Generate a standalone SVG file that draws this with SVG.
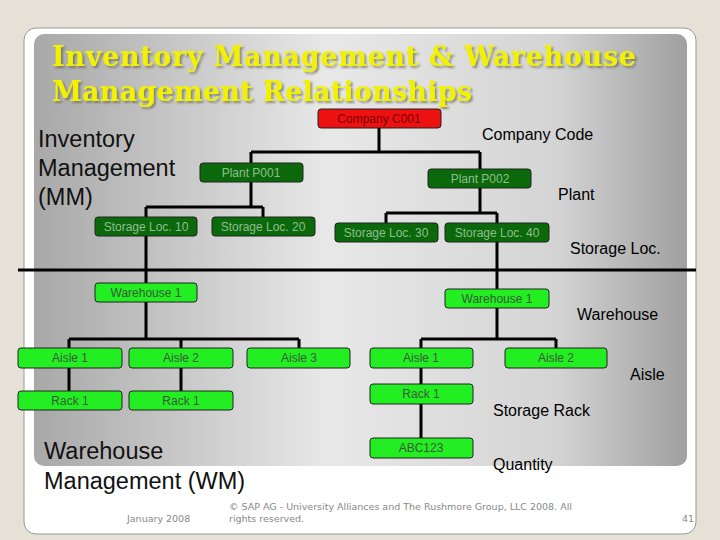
<svg xmlns="http://www.w3.org/2000/svg" width="720" height="540" viewBox="0 0 720 540">
<defs>
<linearGradient id="bg" x1="0" y1="0" x2="1" y2="0">
<stop offset="0" stop-color="#a8a8a8"/><stop offset="0.45" stop-color="#e8e8e8"/><stop offset="0.8" stop-color="#d4d4d4"/><stop offset="1" stop-color="#a0a0a0"/>
</linearGradient>
<filter id="sh" x="-5%" y="-20%" width="110%" height="150%"><feDropShadow dx="2" dy="2" stdDeviation="0.8" flood-color="#55553a" flood-opacity="0.6"/></filter>
<style>
.n rect{stroke:#222;stroke-width:1}
.n text{font-family:"Liberation Sans",Arial,sans-serif;font-size:12px;text-anchor:middle}
.dg rect{fill:#0b690b}.dg text{fill:#8fbf8f}
.lg rect{fill:#22ee22}.lg text{fill:#3a5a3a}
.lab{font-family:"Liberation Sans",Arial,sans-serif;font-size:16px;fill:#000}
.big{font-family:"Liberation Sans",Arial,sans-serif;font-size:23.5px;fill:#111}
.ft{font-family:"DejaVu Sans",Verdana,sans-serif;font-size:9.5px;fill:#888}
.tt{font-family:"DejaVu Serif",serif;font-weight:bold;font-size:27px}
#conn path{fill:none;stroke:#000;stroke-width:3}
</style>
</defs>
<rect width="720" height="540" fill="#e6e1d7"/>
<rect x="24" y="28" width="672" height="506" rx="12" fill="#fff" stroke="#999"/>
<rect x="34" y="34" width="653" height="432" rx="10" fill="url(#bg)"/>
<g class="tt" fill="#f2f200" filter="url(#sh)">
<text x="52" y="66" textLength="584">Inventory Management &amp; Warehouse</text>
<text x="52" y="101" textLength="420">Management Relationships</text>
</g>
<line x1="18" y1="270" x2="696" y2="270" stroke="#000" stroke-width="3"/>
<g id="conn">
<path d="M379 128V152M251 152H480M251 152V163M480 152V169"/>
<path d="M251 182V207M146 207H263M146 207V217M263 207V217"/>
<path d="M480 188V213M386 213H497M386 213V223M497 213V223"/>
<path d="M146 236V283M497 242V289"/>
<path d="M146 302V339M69 339H299M69 339V348M181 339V348M299 339V348"/>
<path d="M497 308V339M421 339H556M421 339V348M556 339V348"/>
<path d="M69 368V391M181 368V391M421 368V384M421 404V438"/>
</g>
<g id="company" class="n"><rect x="318" y="109" width="123" height="19" rx="3" fill="#ee1111"/><text x="379" y="123" fill="#7a0000">Company C001</text></g>
<g id="p1" class="n dg"><rect x="200" y="163" width="103" height="19" rx="3"/><text x="251" y="177">Plant P001</text></g>
<g id="p2" class="n dg"><rect x="428" y="169" width="103" height="19" rx="3"/><text x="480" y="183">Plant P002</text></g>
<g id="s10" class="n dg"><rect x="95" y="217" width="102" height="19" rx="3"/><text x="146" y="231">Storage Loc. 10</text></g>
<g id="s20" class="n dg"><rect x="212" y="217" width="103" height="19" rx="3"/><text x="263" y="231">Storage Loc. 20</text></g>
<g id="s30" class="n dg"><rect x="335" y="223" width="103" height="19" rx="3"/><text x="386" y="237">Storage Loc. 30</text></g>
<g id="s40" class="n dg"><rect x="445" y="223" width="104" height="19" rx="3"/><text x="497" y="237">Storage Loc. 40</text></g>
<g id="w1" class="n lg"><rect x="95" y="283" width="102" height="19" rx="3"/><text x="146" y="297">Warehouse 1</text></g>
<g id="w2" class="n lg"><rect x="445" y="289" width="104" height="19" rx="3"/><text x="497" y="303">Warehouse 1</text></g>
<g id="a1" class="n lg"><rect x="18" y="348" width="104" height="20" rx="3"/><text x="70" y="362">Aisle 1</text></g>
<g id="a2" class="n lg"><rect x="129" y="348" width="104" height="20" rx="3"/><text x="181" y="362">Aisle 2</text></g>
<g id="a3" class="n lg"><rect x="247" y="348" width="103" height="20" rx="3"/><text x="299" y="362">Aisle 3</text></g>
<g id="a4" class="n lg"><rect x="370" y="348" width="103" height="20" rx="3"/><text x="421" y="362">Aisle 1</text></g>
<g id="a5" class="n lg"><rect x="505" y="348" width="102" height="20" rx="3"/><text x="556" y="362">Aisle 2</text></g>
<g id="r1" class="n lg"><rect x="18" y="391" width="104" height="19" rx="3"/><text x="70" y="405">Rack 1</text></g>
<g id="r2" class="n lg"><rect x="129" y="391" width="104" height="19" rx="3"/><text x="181" y="405">Rack 1</text></g>
<g id="r3" class="n lg"><rect x="370" y="384" width="103" height="20" rx="3"/><text x="421" y="398">Rack 1</text></g>
<g id="q" class="n lg"><rect x="370" y="438" width="103" height="20" rx="3"/><text x="421" y="452">ABC123</text></g>
<text class="lab" x="482" y="140">Company Code</text>
<text class="lab" x="558" y="200">Plant</text>
<text class="lab" x="570" y="254">Storage Loc.</text>
<text class="lab" x="577" y="320">Warehouse</text>
<text class="lab" x="630" y="380">Aisle</text>
<text class="lab" x="493" y="416">Storage Rack</text>
<text class="lab" x="493" y="470">Quantity</text>
<text class="big" x="38" y="147">Inventory</text>
<text class="big" x="38" y="176">Management</text>
<text class="big" x="38" y="205">(MM)</text>
<text class="big" x="44" y="459">Warehouse</text>
<text class="big" x="44" y="489">Management (WM)</text>
<text class="ft" x="229" y="510">© SAP AG - University Alliances and The Rushmore Group, LLC 2008. All</text>
<text class="ft" x="229" y="522">rights reserved.</text>
<text class="ft" x="127" y="522">January 2008</text>
<text class="ft" x="682" y="522">41</text>
</svg>
